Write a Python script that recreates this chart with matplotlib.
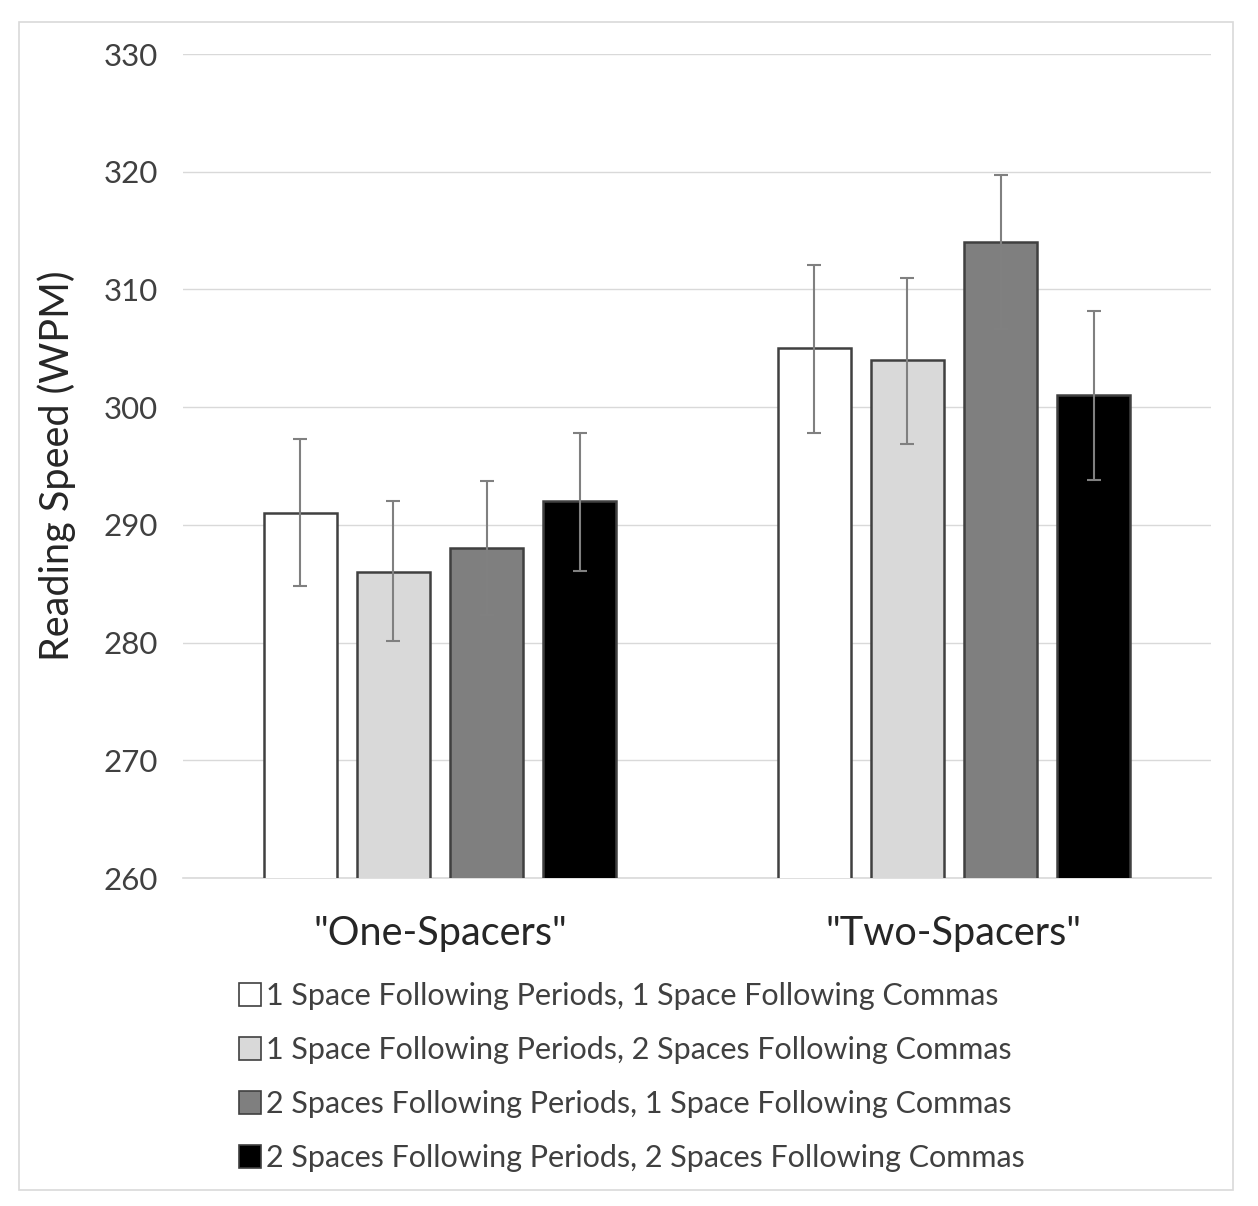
import numpy as np
import matplotlib.pyplot as plt
from matplotlib.patches import Patch, Rectangle

plt.rcParams['font.family'] = ['Lato', 'DejaVu Sans']

groups = ['"One-Spacers"', '"Two-Spacers"']
conditions = ['1 Space Following Periods, 1 Space Following Commas',
              '1 Space Following Periods, 2 Spaces Following Commas',
              '2 Spaces Following Periods, 1 Space Following Commas',
              '2 Spaces Following Periods, 2 Spaces Following Commas']
speeds = [[291, 305],
          [286, 304],
          [288, 314],
          [292, 301]]
err_low = [[6.2, 7.2],
           [5.9, 7.1],
           [5.7, 7.4],
           [5.9, 7.2]]
err_high = [[6.3, 7.1],
            [6.0, 7.0],
            [5.7, 5.7],
            [5.8, 7.2]]
fills = ['#ffffff', '#d9d9d9', '#7f7f7f', '#000000']

fig = plt.figure(figsize=(12.58, 12.06), dpi=100)
ax = fig.add_axes([183/1258, 1-878/1206, 1028/1258, 824/1206])

x = np.arange(len(groups))
step = 0.181
width = 0.142
for i in range(4):
    pos = x + (i - 1.5) * step
    ax.bar(pos, speeds[i], width, bottom=0, color=fills[i], edgecolor='#404040',
           linewidth=1.8, zorder=3, label=conditions[i])
    ax.errorbar(pos, speeds[i], yerr=[err_low[i], err_high[i]], fmt='none',
                ecolor='#808080', elinewidth=1.5, capsize=5, capthick=1.5, zorder=4)

ax.set_ylim(260, 330)
ax.set_xlim(-0.5, 1.5)
ax.set_yticks(range(260, 331, 10))
ax.yaxis.grid(True, color='#d9d9d9', linewidth=1)
ax.set_axisbelow(True)
for s in ['top', 'right', 'left']:
    ax.spines[s].set_visible(False)
ax.spines['bottom'].set_color('#d9d9d9')
ax.spines['bottom'].set_linewidth(1.2)
ax.tick_params(axis='both', length=0, labelsize=22.5, labelcolor='#404040')
ax.tick_params(axis='y', pad=18)
ax.set_xticks(x)
ax.set_xticklabels(groups, fontsize=28.5, color='#262626')
ax.tick_params(axis='x', pad=27)
ax.set_ylabel('Reading Speed (WPM)', fontsize=28.5, color='#262626', labelpad=20)

handles = [Patch(facecolor=fills[i], edgecolor='#404040', linewidth=1.2)
           for i in range(4)]
fig.legend(handles, conditions, loc='center left',
           bbox_to_anchor=(211/1258, 1-1077/1206), frameon=False,
           fontsize=22, labelcolor='#404040', handlelength=0.75, handleheight=0.8,
           handletextpad=0.15, labelspacing=0.85)

fig.add_artist(Rectangle((19/1258, 1-1190/1206), (1233-19)/1258, (1190-22)/1206,
                         transform=fig.transFigure, fill=False,
                         edgecolor='#d9d9d9', linewidth=1.2))

fig.savefig('out.png', dpi=100)
